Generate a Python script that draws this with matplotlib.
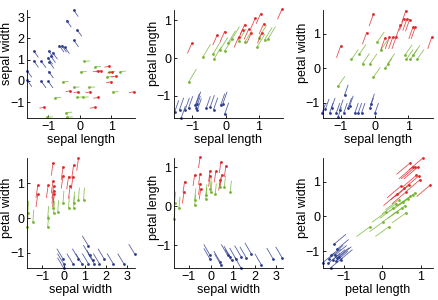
import numpy as np
import matplotlib
matplotlib.use("Agg")
import matplotlib.pyplot as plt

plt.rcParams["font.family"] = ["Liberation Sans", "DejaVu Sans"]

# feature names (standardised iris data)
sl, sw, pl, pw = "sepal length", "sepal width", "petal length", "petal width"

# each panel: dot positions per class, plus the shift to the other end of the segment
# panel 1: sepal length / sepal width
p1_setosa = [(-0.19, 3.34), (-0.41, 2.84), (-0.08, 2.41), (-0.18, 1.91), (-0.64, 1.66),
             (-0.56, 1.66), (-0.47, 1.59), (-1.45, 1.41), (-0.98, 1.41), (-0.85, 1.33),
             (-0.91, 1.16), (-1.45, 0.94), (-1.21, 0.92), (-1.0, 1.09), (-0.96, 0.89),
             (-1.66, 0.47), (-0.98, 0.44), (-1.66, 0.03), (-1.21, -0.03), (-0.99, -0.03)]
p1_versicolor = [(-0.53, -0.05), (0.15, 0.92), (0.04, 0.42), (0.49, 0.66), (0.94, 0.42),
                 (1.28, 0.44), (-0.19, -0.31), (0.31, -0.31), (-0.08, -0.78), (0.1, -0.78),
                 (-0.77, -0.8), (1.05, -0.53), (-0.42, -1.5), (-0.4, -1.72), (-1.03, -1.72),
                 (0.88, 0.19)]
p1_virginica = [(1.71, -0.52), (0.57, 0.47), (0.67, 0.47), (0.94, 0.69), (1.04, 0.42),
                (1.15, 0.22), (0.99, -0.05), (0.48, -1.25), (-1.12, -1.25), (-0.29, -0.47),
                (-0.04, -0.52), (0.34, -0.52), (0.59, -0.78)]
p1_shift = [(0.14, -0.29), (0.17, 0.02), (-0.14, -0.04)]

# panel 2: sepal length / petal length
p2_setosa = [(-1.53, -1.43), (-1.38, -1.36), (-1.33, -1.58), (-1.21, -1.36), (-1.11, -1.32),
             (-0.91, -1.25), (-0.87, -1.2), (-0.88, -1.32), (-0.85, -1.38), (-0.58, -1.32),
             (-0.46, -1.29), (-0.36, -1.36), (-0.15, -1.25), (-0.08, -1.2), (-0.03, -1.49)]
p2_versicolor = [(-0.68, 0.03), (-0.35, -0.03), (-0.38, 0.1), (-0.16, 0.22), (-0.03, 0.18),
                 (0.07, 0.39), (0.19, 0.5), (0.39, 0.44), (0.57, 0.41), (0.95, 0.3),
                 (1.0, 0.54), (1.17, 0.48), (1.27, 0.5), (-1.1, -0.62)]
p2_virginica = [(1.69, 1.29), (1.05, 1.17), (0.89, 1.05), (1.14, 0.9), (0.57, 0.88),
                (0.69, 0.76), (0.51, 0.75), (0.39, 0.55), (-0.03, 0.7), (-0.25, 0.61),
                (-1.01, 0.39), (1.09, 0.66), (0.77, 0.66)]
p2_shift = [(0.12, 0.3), (0.22, 0.32), (-0.13, -0.26)]

# panel 3: sepal length / petal width
p3_setosa = [(-1.56, -1.3), (-1.46, -1.18), (-1.34, -1.3), (-1.28, -1.15), (-1.14, -1.3),
             (-1.09, -1.42), (-1.04, -1.2), (-0.92, -1.3), (-0.89, -0.77), (-0.79, -1.15),
             (-0.74, -1.09), (-0.59, -1.3), (-0.49, -1.3), (-0.39, -1.3), (-0.14, -1.15),
             (-0.11, -1.03), (0.01, -1.3)]
p3_versicolor = [(-0.69, 0.26), (-0.46, 0.41), (-0.36, 0.14), (-0.14, 0.13), (-0.04, -0.26),
                 (0.08, 0.77), (0.18, 0.53), (0.31, 0.0), (0.39, 0.14), (0.91, 0.4),
                 (0.94, 0.26), (1.06, 0.26), (1.14, 0.38), (1.26, 0.26), (-1.09, -0.52)]
p3_virginica = [(-1.01, 0.65), (-0.04, 1.57), (-0.24, 1.04), (0.31, 0.89), (0.44, 0.91),
                (0.54, 0.91), (0.64, 0.91), (0.76, 1.25), (0.93, 1.68), (0.86, 1.44),
                (0.96, 1.44), (1.04, 1.42), (1.14, 1.2), (1.21, 1.2), (1.7, 0.91)]
p3_shift = [(0.1, 0.28), (0.2, 0.28), (-0.12, -0.33)]

# panel 4: sepal width / petal width
p4_setosa = [(1.17, -0.8), (0.0, -1.31), (0.0, -1.43), (0.44, -1.31), (0.86, -1.31),
             (1.17, -1.31), (1.44, -1.31), (1.69, -1.31), (1.91, -1.17), (2.34, -1.31),
             (2.84, -1.31), (3.36, -1.04), (-0.03, -1.17), (0.7, -1.17), (1.22, -1.07),
             (1.38, -1.21)]
p4_versicolor = [(-1.72, -0.26), (-1.69, 0.15), (-1.45, -0.1), (-0.75, -0.26), (-0.75, 0.0),
                 (-0.5, 0.29), (-0.47, 0.15), (-0.28, 0.17), (-0.03, 0.44), (0.23, 0.29),
                 (0.47, 0.29), (0.47, 0.42), (0.7, 0.53), (0.94, 0.53)]
p4_virginica = [(-0.5, 1.58), (-0.03, 1.46), (-0.03, 1.21), (0.23, 1.19), (0.44, 1.19),
                (0.7, 1.72), (0.47, 1.52), (-1.22, 0.94), (-1.22, 0.68), (-0.73, 0.94),
                (-0.5, 1.07), (-0.47, 0.92), (-0.47, 0.78), (-0.44, 0.68), (0.31, 0.92)]
p4_shift = [(-0.28, 0.28), (0.04, 0.33), (-0.08, -0.35)]

# panel 5: sepal width / petal length
p5_setosa = [(-0.03, -1.26), (-0.03, -1.36), (0.43, -1.43), (0.46, -1.5), (0.77, -1.26),
             (0.89, -1.3), (0.95, -1.39), (1.15, -1.35), (1.38, -1.29), (1.38, -1.58),
             (1.62, -1.32), (1.85, -1.22), (2.31, -1.5), (2.85, -1.35), (3.26, -1.32)]
p5_versicolor = [(-1.69, -0.33), (-1.66, 0.09), (-1.46, -0.04), (-0.74, 0.02), (-0.74, 0.17),
                 (-0.23, 0.19), (-0.23, 0.28), (0.0, 0.35), (0.2, 0.3), (0.43, 0.48),
                 (0.62, 0.5), (0.89, 0.37), (-0.03, 0.45)]
p5_virginica = [(-1.2, 0.63), (-1.23, 0.35), (-0.74, 0.8), (-0.49, 1.26), (-0.49, 0.83),
                (-0.49, 0.57), (-0.46, 0.45), (-0.03, 0.91), (-0.03, 0.78), (0.23, 0.89),
                (0.46, 1.13), (0.49, 0.8), (0.69, 1.03), (0.43, 0.68)]
p5_shift = [(-0.28, 0.27), (0.05, 0.27), (-0.07, -0.27)]

# panel 6: petal length / petal width
p6_setosa = [(-1.54, -1.33), (-1.38, -1.22), (-1.32, -1.12), (-1.27, -1.24), (-1.25, -0.8),
             (-1.23, -1.12), (-1.2, -1.29), (-1.17, -1.19), (-1.34, -1.48), (-1.4, -1.35),
             (-1.11, -1.16), (-1.08, -1.24), (-1.18, -0.95)]
p6_versicolor = [(-0.31, -0.29), (0.03, -0.15), (0.09, 0.12), (0.18, -0.29), (0.29, 0.23),
                 (0.35, 0.36), (0.44, 0.48), (0.5, 0.23), (0.53, 0.43), (0.59, 0.31),
                 (0.66, 0.5), (0.73, 0.58), (0.8, 0.62), (0.85, 0.68), (0.61, 0.1),
                 (0.38, 0.14)]
p6_virginica = [(0.73, 1.55), (0.79, 1.42), (0.85, 1.42), (0.92, 1.42), (1.05, 1.68),
                (0.88, 1.18), (0.94, 1.16), (0.98, 1.06), (1.25, 0.91), (0.57, 0.81),
                (0.7, 0.91), (0.61, 0.7), (0.48, 0.87), (0.39, 0.65)]
p6_shift = [(0.3, 0.28), (-0.35, -0.28), (-0.35, -0.33)]

colors = ["#2b3b8e", "#74b532", "#e0262a"]

panels = [
    (sl, sw, [p1_setosa, p1_versicolor, p1_virginica], p1_shift, (-1.66, 1.75), (-1.75, 3.35), [-1, 0, 1], [-1, 0, 1, 2, 3]),
    (sl, pl, [p2_setosa, p2_versicolor, p2_virginica], p2_shift, (-1.55, 1.72), (-1.58, 1.27), [-1, 0, 1], [-1, 0, 1]),
    (sl, pw, [p3_setosa, p3_versicolor, p3_virginica], p3_shift, (-1.54, 1.74), (-1.44, 1.70), [-1, 0, 1], [-1, 0, 1]),
    (sw, pw, [p4_setosa, p4_versicolor, p4_virginica], p4_shift, (-1.72, 3.36), (-1.43, 1.72), [-1, 0, 1, 2, 3], [-1, 0, 1]),
    (sw, pl, [p5_setosa, p5_versicolor, p5_virginica], p5_shift, (-1.69, 3.30), (-1.58, 1.23), [-1, 0, 1, 2, 3], [-1, 0, 1]),
    (pl, pw, [p6_setosa, p6_versicolor, p6_virginica], p6_shift, (-1.54, 1.32), (-1.48, 1.68), [-1, 0, 1], [-1, 0, 1]),
]

boxes = [
    [0.062, 0.607, 0.246, 0.36], [0.397, 0.607, 0.249, 0.36], [0.737, 0.607, 0.252, 0.36],
    [0.062, 0.107, 0.246, 0.366], [0.397, 0.107, 0.249, 0.366], [0.737, 0.107, 0.252, 0.366],
]

fig = plt.figure(figsize=(4.38, 3.0), dpi=100)
for i, (box, (xl, yl, groups, shifts, xlim, ylim, xt, yt)) in enumerate(zip(boxes, panels)):
    ax = fig.add_axes(box)
    for pts, (dx, dy), c in zip(groups, shifts, colors):
        pts = np.array(pts)
        for x, y in pts:
            ax.plot([x, x + dx], [y, y + dy], color=c, lw=0.6, alpha=0.8, clip_on=False)
        ax.plot(pts[:, 0], pts[:, 1], "o", color=c, ms=2.0, mew=0, clip_on=False)
    ax.set_xlim(xlim)
    ax.set_ylim(ylim)
    ax.set_xticks(xt)
    ax.set_yticks(yt)
    ax.set_xticklabels(["\u2212" + str(-t) if t < 0 else str(t) for t in xt])
    ax.set_yticklabels(["\u2212" + str(-t) if t < 0 else str(t) for t in yt])
    ax.spines["top"].set_visible(False)
    ax.spines["right"].set_visible(False)
    ax.spines["left"].set_linewidth(0.6)
    ax.spines["bottom"].set_linewidth(0.6)
    ax.tick_params(direction="in", length=2, width=0.6, labelsize=9, pad=2)
    ax.set_xlabel(xl, fontsize=9, labelpad=1)
    ax.set_ylabel(yl, fontsize=9)
    # top row labels sit a bit higher, as in the original
    ax.yaxis.set_label_coords(-14.0 / (box[2] * 438), 0.6 if i < 3 else 0.55)

fig.savefig("out.png", dpi=100)
